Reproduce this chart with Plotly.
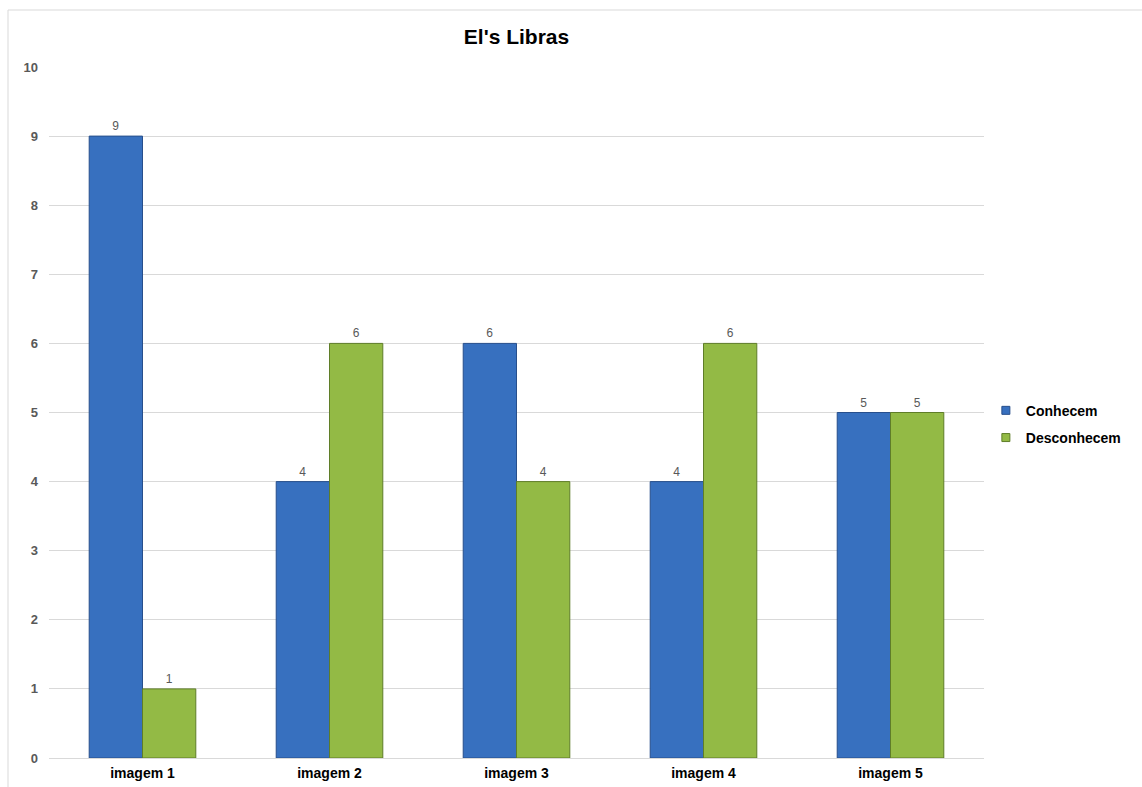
import plotly.graph_objects as go

categories = ["imagem 1", "imagem 2", "imagem 3", "imagem 4", "imagem 5"]
conhecem = [9, 4, 6, 4, 5]
desconhecem = [1, 6, 4, 6, 5]
y_ticks = list(range(0, 11))

FONT = "Liberation Sans, Arial"
BLUE, BLUE_EDGE = "#3770bf", "#274f8c"
GREEN, GREEN_EDGE = "#93ba45", "#5f7d28"

fig = go.Figure()
for name, vals, fill, edge in [("Conhecem", conhecem, BLUE, BLUE_EDGE),
                               ("Desconhecem", desconhecem, GREEN, GREEN_EDGE)]:
    fig.add_trace(go.Bar(
        name=name, x=categories, y=vals, showlegend=False,
        marker=dict(color=fill, line=dict(color=edge, width=1)),
        text=vals, textposition="outside",
        textfont=dict(family=FONT, size=12, color="#595959"),
        cliponaxis=False,
    ))
    # small square legend key
    fig.add_trace(go.Scatter(
        name=name, x=[None], y=[None], mode="markers", legendgroup=name,
        marker=dict(symbol="square", size=8, color=fill, line=dict(color=edge, width=1)),
    ))

fig.update_layout(
    width=1142, height=787,
    margin=dict(l=49, r=158, t=67, b=29, autoexpand=False),
    paper_bgcolor="white", plot_bgcolor="white",
    barmode="group", bargap=0.43, bargroupgap=0,
    title=dict(text="El's Libras", x=0.5, xanchor="center",
               xref="paper", y=1 - 37 / 787, yanchor="middle",
               font=dict(family=FONT, size=21, color="black", weight="bold")),
    font=dict(family=FONT),
    showlegend=True,
    legend=dict(x=1.002, y=0.483, xanchor="left", yanchor="middle",
                font=dict(size=14, color="black", family=FONT, weight="bold"),
                itemwidth=30, tracegroupgap=6, itemsizing="trace"),
    xaxis=dict(showgrid=False, showline=True, linecolor="#d9d9d9", linewidth=1,
               ticks="", tickfont=dict(size=14, color="black", family=FONT, weight="bold"),
               ticklabelstandoff=2),
    yaxis=dict(range=[0, 10], tickvals=y_ticks, showgrid=True, gridcolor="#d9d9d9",
               gridwidth=1, zeroline=False, showline=False, ticks="",
               tickfont=dict(size=13, color="#595959", family=FONT, weight="bold"),
               ticklabelstandoff=10),
    shapes=[
        dict(type="rect", xref="paper", yref="paper",
             x0=(8 - 49) / 935, x1=1.3, y0=-0.2, y1=1 + (67 - 10) / 691,
             line=dict(color="#d9d9d9", width=1), fillcolor="rgba(0,0,0,0)", layer="below"),
    ],
)

fig.write_html("out.html")
